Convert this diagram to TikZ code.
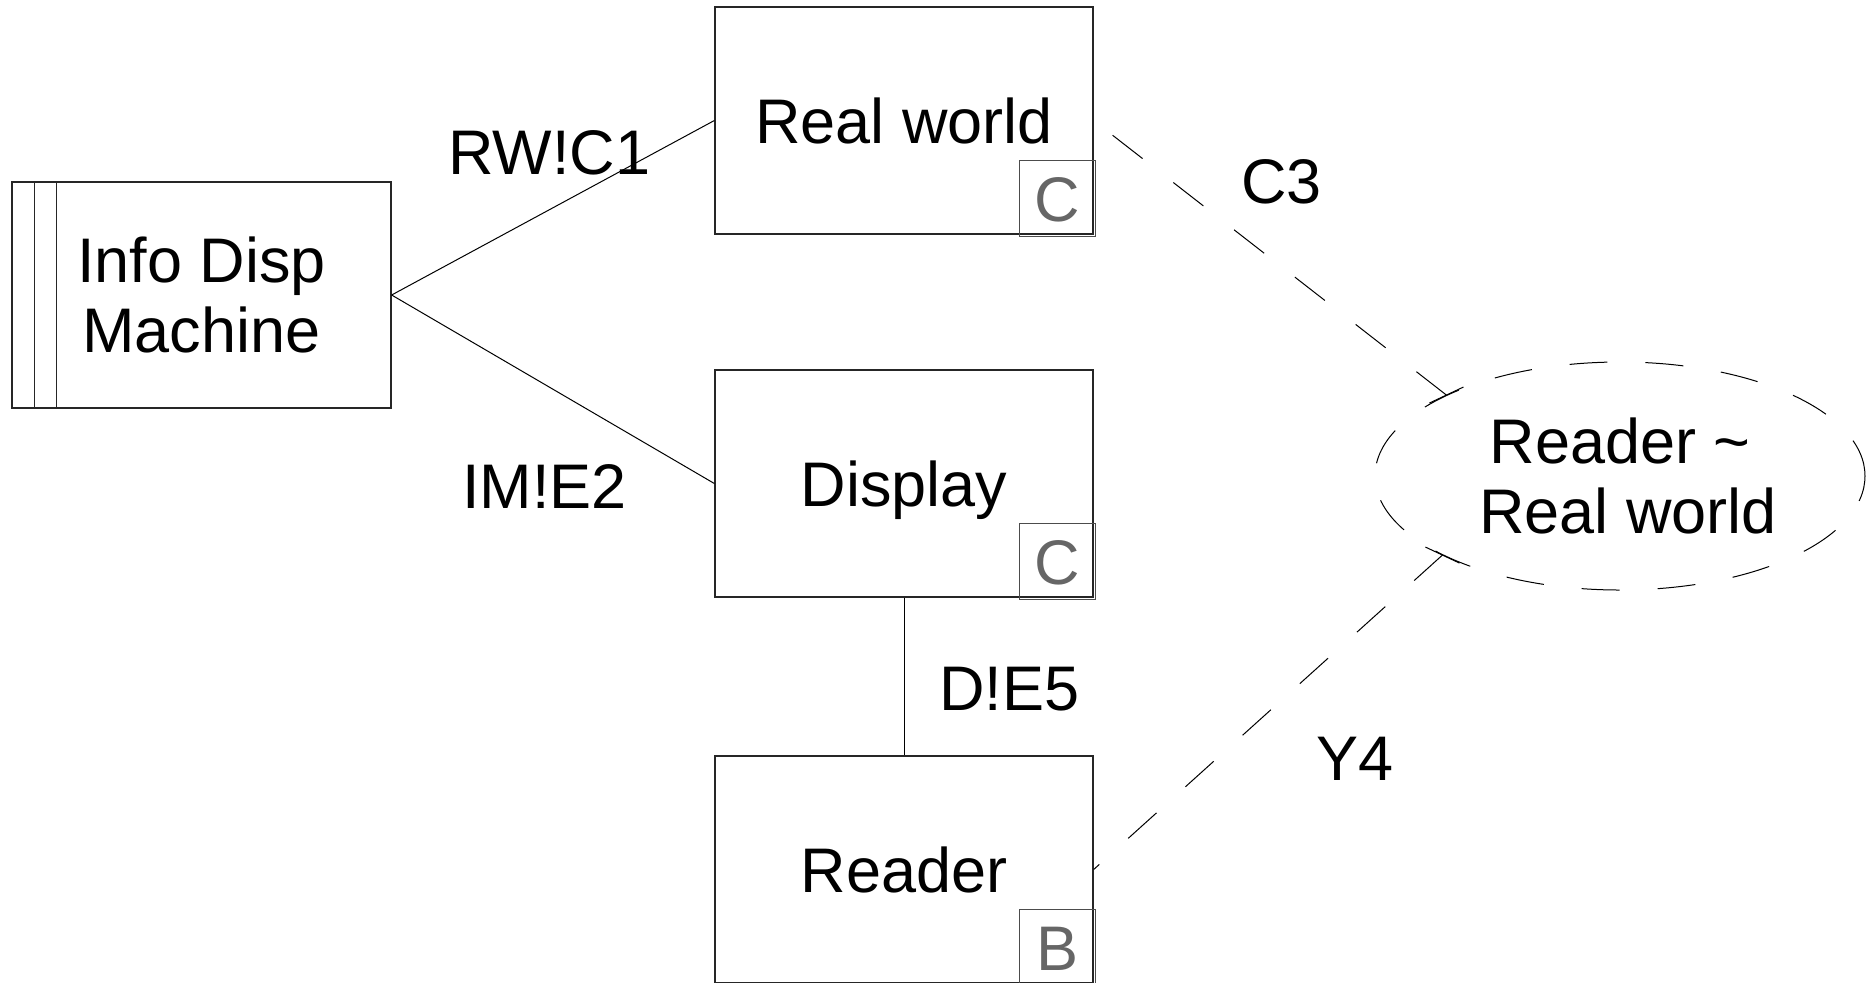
\documentclass[tikz,border=0pt]{standalone}
\usepackage{fontspec}
\setmainfont{Liberation Sans}
\usetikzlibrary{shapes.geometric,calc}
\begin{document}
\begin{tikzpicture}[x=0.5pt,y=-0.5pt,
  every node/.style={font=\fontsize{31.5}{35}\selectfont},
  box/.style={draw=black!85,line width=0.65pt,rectangle,minimum width=189pt,minimum height=113.5pt,inner sep=0pt,text height=22.55pt,text depth=0pt},
  mbox/.style={draw=black!85,line width=0.65pt,rectangle,minimum width=189.5pt,minimum height=113pt,inner sep=0pt,align=center},
  tag/.style={draw=black!70,line width=0.65pt,rectangle,minimum size=38pt,inner sep=0pt,text=black!60,text height=22.55pt,text depth=0pt},
  ell/.style={ellipse,draw=black,line width=0.5pt,dash pattern=on 19pt off 19pt,minimum width=245pt,minimum height=114pt,inner sep=0pt,align=center},
  conn/.style={draw=black,line width=0.5pt},
  dconn/.style={conn,dash pattern=on 19pt off 19.5pt},
  lbl/.style={inner sep=0pt,anchor=base west}
]
\useasboundingbox (0,0) rectangle (1873,982);

% boxes
\node[mbox] (m) at (201.5,295) {Info Disp\\Machine};
\draw[draw=black!85,line width=0.65pt] ($(m.north west)+(23,0)$) -- ($(m.south west)+(23,0)$);
\draw[draw=black!85,line width=0.65pt] ($(m.north west)+(45,0)$) -- ($(m.south west)+(45,0)$);

\node[box] (rw) at (904,120.5) {Real world};
\node[box] (disp) at (904,483.5) {Display};
\node[box] (rd) at (904,869.5) {Reader};

\node[tag] (rwc) at ($(rw.south east)+(-36,-36)$) {C};
\node[tag] (dc) at ($(disp.south east)+(-36,-36)$) {C};
\node[tag] (rdb) at ($(rd.south east)+(-36,-36)$) {B};

\node[ell] (ell) at (1620,476) {Reader \textasciitilde\\\hspace*{8pt}Real world};
\coordinate (t1) at (ell.155.7);
\coordinate (t2) at (ell.204.7);

% connectors
\draw[conn] (m.east) -- (rw.west);
\draw[conn] (m.east) -- (disp.west);
\draw[conn] (disp.south) -- (rd.north);
\draw[dconn] (t1) -- (rw.east);
\draw[dconn] (t2) -- (rd.east);
\draw[conn] ($(t1)+(-17,8)$) -- ($(t1)+(17,-8)$);
\draw[conn] ($(t2)+(-17,-8)$) -- ($(t2)+(17,8)$);

% labels
\node[lbl] (l1) at (448,174) {RW!C1};
\node[lbl] (l2) at (462,508) {IM!E2};
\node[lbl] (l3) at (1241,203) {C3};
\node[lbl] (l4) at (1316,780) {Y4};
\node[lbl] (l5) at (939,710) {D!E5};
\end{tikzpicture}
\end{document}
